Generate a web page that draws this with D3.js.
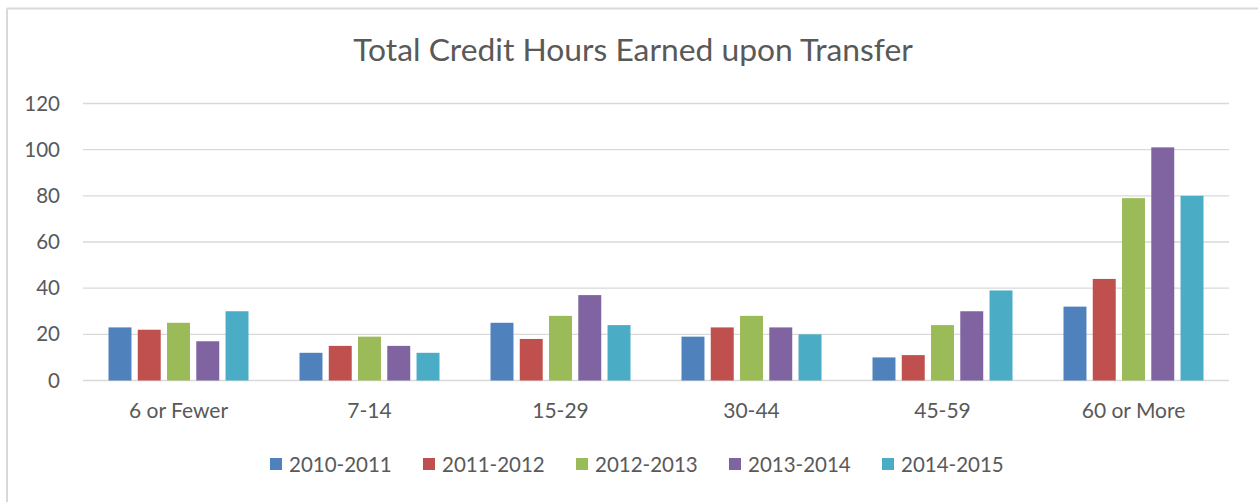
<!DOCTYPE html>
<html>
<head>
<meta charset="utf-8">
<script src="https://cdn.jsdelivr.net/npm/d3@7"></script>
<style>
  html, body { margin: 0; padding: 0; background: #ffffff; }
  svg { display: block; }
  text { font-family: Lato, "Open Sans", "DejaVu Sans", sans-serif; fill: #595959; }
</style>
</head>
<body>
<svg id="chart" width="1258" height="502"></svg>
<script>
// Credit-hour bands on the x axis
const categories = ["6 or Fewer", "7-14", "15-29", "30-44", "45-59", "60 or More"];
// Academic years, one bar per year within each band
const seriesNames = ["2010-2011", "2011-2012", "2012-2013", "2013-2014", "2014-2015"];
const seriesColors = ["#4f81bd", "#c0504d", "#9bbb59", "#8064a2", "#4bacc6"];
// Students per band, one array per year
const y2010 = [23, 12, 25, 19, 10, 32];
const y2011 = [22, 15, 18, 23, 11, 44];
const y2012 = [25, 19, 28, 28, 24, 79];
const y2013 = [17, 15, 37, 23, 30, 101];
const y2014 = [30, 12, 24, 20, 39, 80];
const seriesValues = [y2010, y2011, y2012, y2013, y2014];
const yTicks = [0, 20, 40, 60, 80, 100, 120];

const svg = d3.select("#chart");
const W = 1258, H = 502;

// Outer frame (top and left edges visible)
svg.append("line").attr("x1", 7).attr("x2", W).attr("y1", 8.5).attr("y2", 8.5)
  .attr("stroke", "#d9d9d9").attr("stroke-width", 2);
svg.append("line").attr("x1", 7).attr("x2", 7).attr("y1", 8.5).attr("y2", H)
  .attr("stroke", "#d9d9d9").attr("stroke-width", 2);

const plot = { left: 83, right: 1229, top: 103.5, bottom: 380.5 };

const x0 = d3.scaleBand().domain(categories)
  .range([plot.left, plot.right]).paddingInner(0.267).paddingOuter(0.1335);
const x1 = d3.scaleBand().domain(seriesNames)
  .range([0, x0.bandwidth()]).paddingInner(0.215).paddingOuter(0);
const y = d3.scaleLinear().domain([0, 120]).range([plot.bottom, plot.top]);

// Title
svg.append("text")
  .attr("x", 633).attr("y", 61)
  .attr("text-anchor", "middle")
  .style("font-size", "31.8px")
  .text("Total Credit Hours Earned upon Transfer");

// Horizontal gridlines
svg.append("g").selectAll("line").data(yTicks).join("line")
  .attr("x1", plot.left).attr("x2", plot.right)
  .attr("y1", d => y(d)).attr("y2", d => y(d))
  .attr("stroke", "#d9d9d9").attr("stroke-width", 1.4);

// Y axis labels
const yAxis = d3.axisLeft(y).tickValues(yTicks).tickSize(0).tickPadding(0);
const yg = svg.append("g").attr("transform", `translate(${plot.left - 23},0)`).call(yAxis);
yg.select(".domain").remove();
yg.selectAll("text").style("font-size", "20.5px").attr("fill", "#595959")
  .style("font-family", "Lato, 'Open Sans', sans-serif");

// X axis labels
const xAxis = d3.axisBottom(x0).tickSize(0).tickPadding(0);
const xg = svg.append("g").attr("transform", `translate(0,${plot.bottom + 23})`).call(xAxis);
xg.select(".domain").remove();
xg.selectAll("text").style("font-size", "21px").attr("fill", "#595959")
  .style("font-family", "Lato, 'Open Sans', sans-serif");

// Bars
const groups = svg.append("g").selectAll("g").data(categories).join("g")
  .attr("transform", d => `translate(${x0(d)},0)`);
groups.selectAll("rect")
  .data((c, ci) => seriesNames.map((s, si) => ({ s, si, v: seriesValues[si][ci] })))
  .join("rect")
  .attr("x", d => x1(d.s))
  .attr("width", x1.bandwidth())
  .attr("y", d => y(d.v))
  .attr("height", d => y(0) - y(d.v))
  .attr("fill", d => seriesColors[d.si]);

// Legend
const legend = svg.append("g").attr("transform", "translate(270,464)");
const legendStep = 153;
const items = legend.selectAll("g").data(seriesNames).join("g")
  .attr("transform", (d, i) => `translate(${i * legendStep},0)`);
items.append("rect").attr("x", 0).attr("y", -6).attr("width", 12).attr("height", 12)
  .attr("fill", (d, i) => seriesColors[i]);
items.append("text").attr("x", 19).attr("y", 7.5)
  .style("font-size", "20.5px").text(d => d);
</script>
</body>
</html>
